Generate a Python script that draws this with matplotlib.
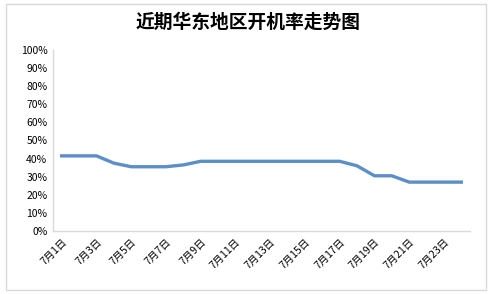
import matplotlib
matplotlib.use("Agg")
import matplotlib.pyplot as plt
from matplotlib.patches import Rectangle

plt.rcParams['font.family'] = ['Noto Sans CJK SC', 'DejaVu Sans']

# 7月1日 - 7月24日 开机率 (%)
days = [f"7月{d}日" for d in range(1, 25)]
rate = [41.5, 41.5, 41.5, 37.5, 35.5, 35.5, 35.5, 36.5, 38.5, 38.5,
        38.5, 38.5, 38.5, 38.5, 38.5, 38.5, 38.5, 36.0, 30.5, 30.5,
        27.0, 27.0, 27.0, 27.0]
yticks = list(range(0, 101, 10))

fig = plt.figure(figsize=(4.97, 2.94), dpi=100)
ax = fig.add_axes([0.1066, 0.2143, 0.8391, 0.6157])

x = list(range(len(days)))
ax.plot(x, rate, color='#5b8fc6', linewidth=2.4, solid_joinstyle='round')

ax.set_xlim(-0.5, len(days) - 0.5)
ax.set_ylim(0, 100)
ax.set_yticks(yticks)
ax.set_yticklabels([f"{v}%" for v in yticks], fontsize=7.5)
ax.set_xticks(x[::2])
ax.set_xticklabels(days[::2], fontsize=7.5, rotation=45, ha='right',
                   rotation_mode='anchor')
ax.tick_params(axis='both', length=0, pad=4)

for s in ['top', 'right']:
    ax.spines[s].set_visible(False)
for s in ['left', 'bottom']:
    ax.spines[s].set_color('#d9d9d9')
    ax.spines[s].set_linewidth(1)

fig.text(0.5, 0.925, "近期华东地区开机率走势图", ha='center', va='center',
         fontsize=13.5, fontweight='bold')

# outer chart border
fig.patches.append(Rectangle((6 / 497, 4 / 294), 480 / 497, 286 / 294,
                             transform=fig.transFigure, fill=False,
                             edgecolor='#d9d9d9', linewidth=1))

fig.savefig("out.png", dpi=100)
